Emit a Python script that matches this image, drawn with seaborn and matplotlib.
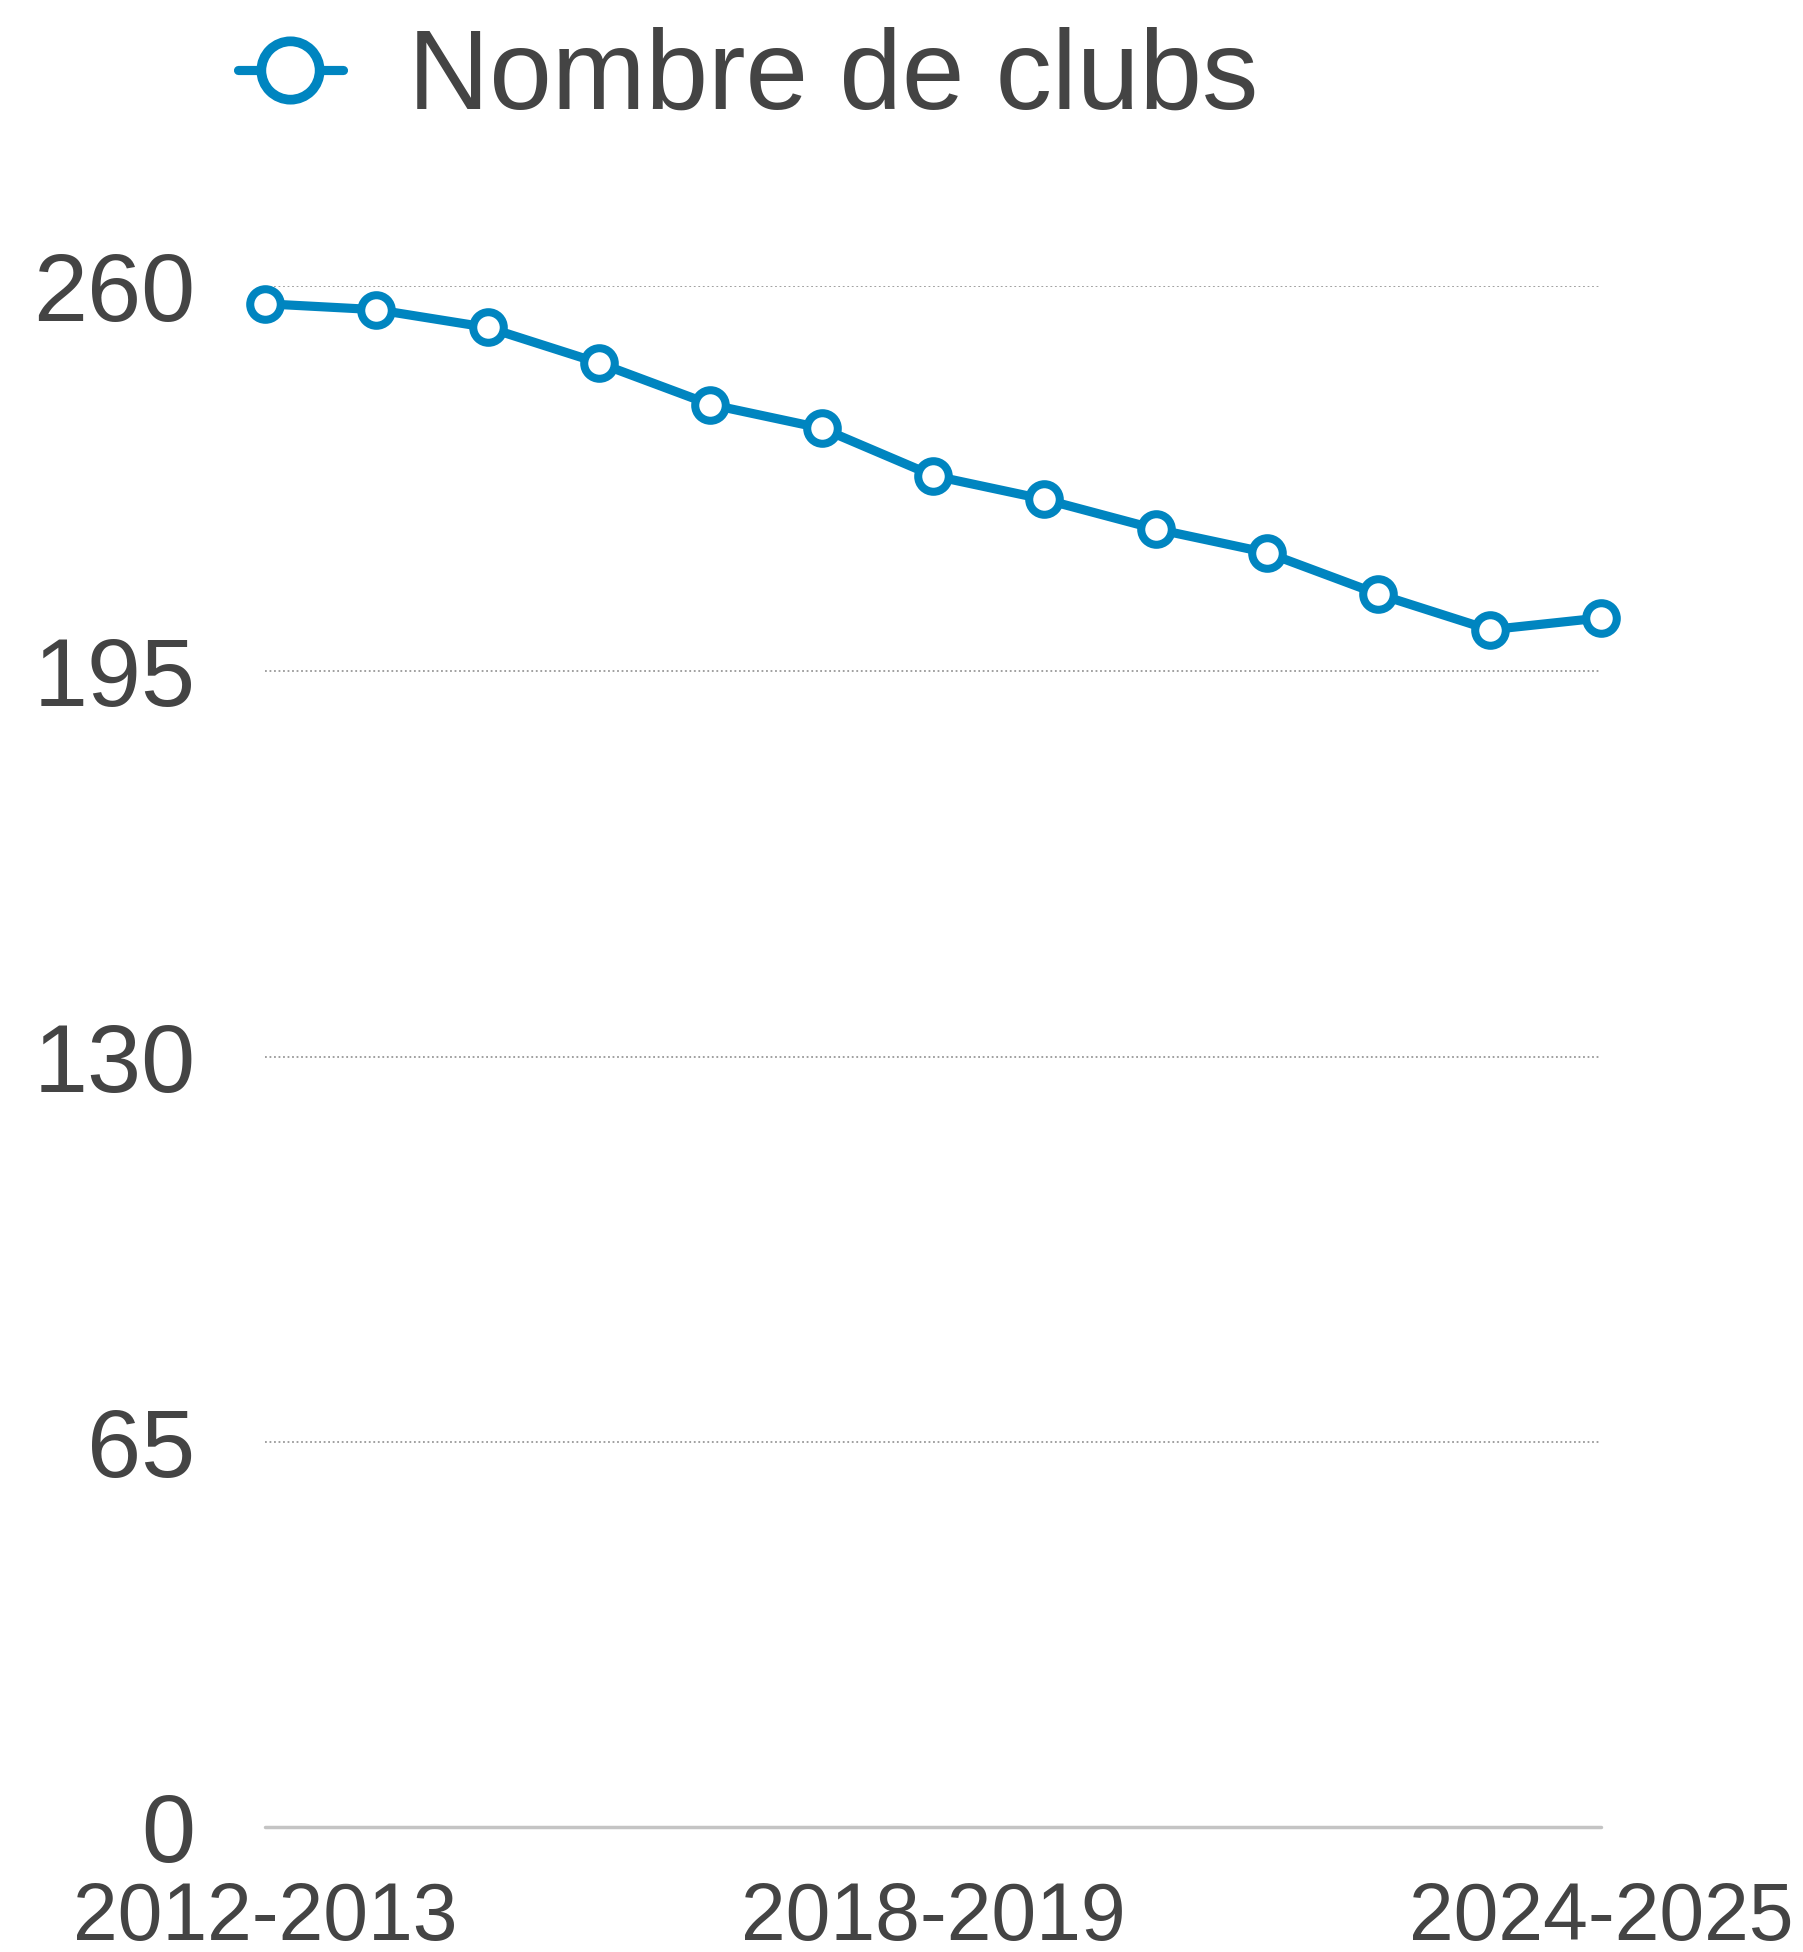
import numpy as np
import pandas as pd
import matplotlib
matplotlib.use('Agg')
import matplotlib.pyplot as plt
import seaborn as sns

# data
seasons = ['2012-2013', '2013-2014', '2014-2015', '2015-2016', '2016-2017',
           '2017-2018', '2018-2019', '2019-2020', '2020-2021', '2021-2022',
           '2022-2023', '2023-2024', '2024-2025']
clubs = [257, 256, 253, 247, 240, 236, 228, 224, 219, 215, 208, 202, 204]
y_ticks = [0, 65, 130, 195, 260]
x_tick_labels = ['2012-2013', '2018-2019', '2024-2025']

df = pd.DataFrame({'saison': seasons, 'clubs': clubs})

sns.set_style('white')
plt.rcParams['font.family'] = ['Liberation Sans', 'DejaVu Sans']

blue = '#0085c0'
grey_text = '#444444'

fig = plt.figure(figsize=(18.03, 19.52), dpi=100)
ax = fig.add_axes([0.147, 0.064, 0.741, 0.7895])

sns.lineplot(data=df, x='saison', y='clubs', ax=ax, color=blue,
             linewidth=6.6, marker='o', markersize=22,
             markerfacecolor='white', markeredgecolor=blue,
             markeredgewidth=5.8, label='Nombre de clubs', clip_on=False)

ax.set_xlim(0, len(seasons) - 1)
ax.set_ylim(0, 260)

# grid lines
for v in y_ticks[1:]:
    ax.axhline(v, color='#999999', linewidth=1.3, linestyle=(0, (1, 1.5)), zorder=0)
ax.axhline(0, color='#c4c4c4', linewidth=2.5, zorder=0, clip_on=False)

ax.set_yticks(y_ticks)
ax.set_yticklabels([str(v) for v in y_ticks], fontsize=70, color=grey_text)
idx = [seasons.index(s) for s in x_tick_labels]
ax.set_xticks(idx)
ax.set_xticklabels(x_tick_labels, fontsize=58, color=grey_text)
ax.tick_params(axis='y', length=0, pad=50)
ax.tick_params(axis='x', length=0, pad=39)
for lab in ax.get_yticklabels():
    lab.set_verticalalignment('center_baseline')

for s in ax.spines.values():
    s.set_visible(False)
ax.set_xlabel('')
ax.set_ylabel('')

leg = ax.legend(loc='center left', bbox_to_anchor=(0.132, 0.959),
                bbox_transform=fig.transFigure, frameon=False,
                fontsize=81, handlelength=0.93, handletextpad=0.58,
                labelcolor=grey_text, borderpad=0, borderaxespad=0)
for h in leg.legend_handles:
    h.set_markersize(42)
    h.set_markeredgewidth(7)

fig.savefig('out.png', dpi=100)
